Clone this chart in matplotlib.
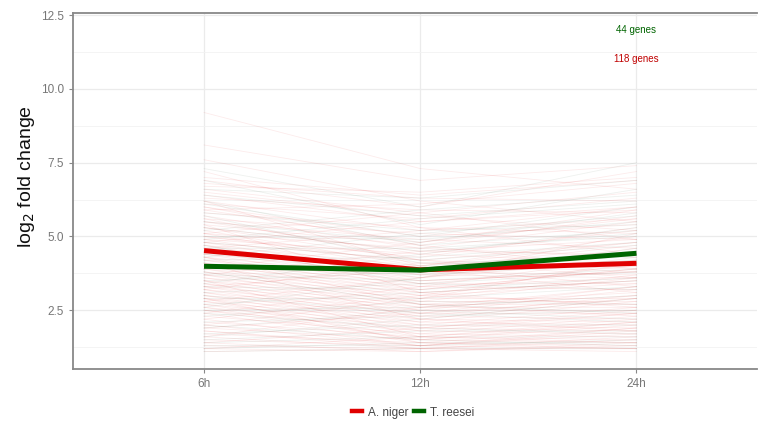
import matplotlib
matplotlib.use("Agg")
import matplotlib.pyplot as plt
from matplotlib.lines import Line2D

plt.rcParams['font.family'] = ['Liberation Sans', 'DejaVu Sans']

timepoints = ["6h", "12h", "24h"]

# per-gene log2 fold change (6h, 12h, 24h)
niger_genes = [
    (9.2, 7.3, 6.6), (8.1, 6.9, 7.4), (7.0, 6.4, 6.9), (6.9, 6.0, 7.2), (6.8, 6.3, 6.2),
    (6.6, 5.8, 6.5), (6.4, 5.5, 6.0), (6.3, 5.9, 5.8), (6.2, 5.2, 5.6), (6.1, 5.6, 6.3),
    (6.0, 5.0, 5.4), (5.9, 4.8, 5.9), (5.8, 5.3, 5.1), (5.7, 4.6, 5.5), (5.6, 5.1, 4.9),
    (5.5, 4.4, 5.2), (5.5, 4.9, 4.6), (5.4, 4.7, 5.7), (5.3, 4.2, 4.8), (5.3, 4.5, 4.4),
    (5.2, 4.0, 5.0), (5.1, 4.6, 4.3), (5.1, 3.9, 4.7), (5.0, 4.3, 5.3), (5.0, 4.1, 4.0),
    (4.9, 3.8, 4.5), (4.9, 4.4, 4.1), (4.8, 3.7, 4.6), (4.8, 4.2, 3.9), (4.7, 3.6, 4.2),
    (4.7, 4.0, 4.8), (4.6, 3.5, 3.8), (4.6, 3.9, 4.4), (4.5, 3.4, 4.0), (4.5, 3.8, 3.7),
    (4.4, 3.3, 4.3), (4.4, 3.7, 3.6), (4.3, 3.2, 3.9), (4.3, 3.6, 4.5), (4.2, 3.1, 3.5),
    (4.2, 3.5, 3.8), (4.1, 3.0, 4.1), (4.1, 3.4, 3.4), (4.0, 2.9, 3.7), (4.0, 3.3, 3.2),
    (3.9, 2.8, 3.6), (3.9, 3.2, 3.9), (3.8, 2.7, 3.1), (3.8, 3.1, 3.5), (3.7, 2.6, 3.0),
    (3.7, 3.0, 3.4), (3.6, 2.5, 3.3), (3.6, 2.9, 2.9), (3.5, 2.4, 3.2), (3.5, 2.8, 2.8),
    (3.4, 2.3, 3.0), (3.4, 2.7, 2.7), (3.3, 2.2, 2.9), (3.3, 2.6, 2.6), (3.2, 2.1, 2.8),
    (3.2, 2.5, 2.5), (3.1, 2.0, 2.6), (3.1, 2.4, 2.4), (3.0, 1.9, 2.5), (3.0, 2.3, 2.2),
    (2.9, 1.8, 2.4), (2.9, 2.2, 2.1), (2.8, 1.7, 2.3), (2.8, 2.1, 2.0), (2.7, 1.6, 2.2),
    (2.7, 2.0, 1.9), (2.6, 1.5, 2.1), (2.6, 1.9, 1.8), (2.5, 1.5, 2.0), (2.5, 1.8, 1.7),
    (2.4, 1.4, 1.9), (2.3, 1.7, 1.6), (2.2, 1.3, 1.8), (2.1, 1.6, 1.5), (2.0, 1.3, 1.7),
    (1.9, 1.5, 1.4), (1.8, 1.2, 1.6), (1.7, 1.4, 1.3), (1.6, 1.2, 1.5), (1.5, 1.3, 1.2),
    (1.4, 1.1, 1.4), (1.3, 1.2, 1.2), (1.2, 1.1, 1.3), (1.1, 1.2, 1.1), (1.2, 1.6, 2.1),
    (2.2, 3.0, 2.7), (3.2, 4.1, 3.8), (1.6, 2.6, 3.3), (5.4, 3.1, 2.6), (6.2, 4.0, 3.3),
    (2.0, 2.9, 4.2), (4.6, 5.2, 6.0), (3.9, 4.8, 5.6), (7.2, 5.3, 4.4), (2.8, 3.6, 5.1),
    (5.9, 6.1, 6.8), (4.1, 2.2, 1.8), (3.5, 1.6, 1.4), (1.9, 2.4, 2.9), (6.5, 5.7, 5.2),
    (7.6, 6.2, 5.5), (3.7, 4.5, 4.9), (2.4, 3.3, 3.6), (5.6, 4.2, 3.6), (1.4, 1.9, 2.4),
    (4.8, 5.5, 5.9), (6.0, 4.7, 3.9), (2.9, 1.4, 1.2), (3.3, 3.9, 3.1), (5.1, 5.8, 4.9),
    (4.3, 2.7, 2.3), (1.8, 1.3, 1.9), (6.7, 6.5, 7.0),
]
reesei_genes = [
    (7.3, 6.0, 7.5), (6.9, 5.4, 6.6), (6.4, 5.7, 6.2), (6.1, 5.0, 6.0), (5.8, 5.2, 5.4),
    (5.5, 4.8, 5.8), (5.3, 4.5, 5.1), (5.0, 4.9, 5.5), (4.8, 4.2, 4.7), (4.6, 4.6, 5.0),
    (4.4, 3.9, 4.4), (4.2, 4.3, 4.8), (4.0, 3.7, 4.1), (3.9, 4.0, 4.5), (3.7, 3.5, 3.9),
    (3.5, 3.8, 4.2), (3.3, 3.2, 3.6), (3.1, 3.4, 3.8), (2.9, 2.9, 3.3), (2.7, 3.1, 3.5),
    (2.5, 2.6, 3.0), (2.3, 2.8, 2.7), (2.1, 2.3, 2.5), (1.9, 2.5, 2.2), (1.7, 2.0, 2.0),
    (1.5, 1.8, 1.8), (1.4, 1.6, 1.6), (1.2, 1.4, 1.4), (1.1, 1.2, 1.2), (6.6, 6.3, 6.9),
    (5.2, 5.9, 6.4), (4.7, 3.4, 3.2), (3.8, 2.7, 2.4), (2.6, 3.6, 4.6), (2.0, 1.5, 1.3),
    (1.6, 2.2, 2.9), (3.4, 4.4, 5.3), (4.9, 5.6, 6.1), (5.7, 4.1, 4.3), (2.4, 1.9, 1.7),
    (3.0, 2.4, 2.1), (1.3, 1.3, 1.5), (4.3, 5.1, 5.7), (6.2, 4.7, 5.2),
]

# average profiles
niger_mean = [4.52, 3.87, 4.09]
reesei_mean = [3.99, 3.86, 4.43]

count_labels = ["44 genes", "118 genes"]
count_y = [12.0, 11.0]

red = "#e00000"
green = "#006400"

fig = plt.figure(figsize=(7.58, 4.24), dpi=100)
ax = fig.add_axes([0.0963, 0.1297, 0.902, 0.8396])

x = [1, 2, 3]
for g in niger_genes:
    ax.plot(x, g, color=red, alpha=0.08, lw=0.6, zorder=2)
for g in reesei_genes:
    ax.plot(x, g, color="#2f4f2f", alpha=0.08, lw=0.6, zorder=2)

ax.plot(x, niger_mean, color=red, lw=3.6, solid_capstyle="butt", zorder=4)
ax.plot(x, reesei_mean, color=green, lw=3.6, solid_capstyle="butt", zorder=5)

ax.text(3, count_y[0], count_labels[0], color=green, fontsize=7, ha="center", va="center")
ax.text(3, count_y[1], count_labels[1], color="#c00000", fontsize=7, ha="center", va="center")

ax.set_xlim(0.394, 3.556)
ax.set_ylim(0.51, 12.57)
ax.set_xticks(x)
ax.set_xticklabels(timepoints)
ax.set_yticks([2.5, 5.0, 7.5, 10.0, 12.5])
ax.set_yticklabels(["2.5", "5.0", "7.5", "10.0", "12.5"])
ax.set_yticks([1.25, 3.75, 6.25, 8.75, 11.25], minor=True)
ax.tick_params(axis="y", which="minor", length=0)
ax.tick_params(colors="#888888", labelcolor="#777777", labelsize=8.5, length=3)

ax.grid(True, which="major", color="#ebebeb", lw=0.9)
ax.grid(True, which="minor", axis="y", color="#f2f2f2", lw=0.6)
ax.set_axisbelow(True)

for side in ["left", "bottom", "top"]:
    ax.spines[side].set_color("#888888")
    ax.spines[side].set_linewidth(1.3)
ax.spines["right"].set_visible(False)

ax.set_ylabel("log$_2$ fold change", fontsize=14, color="#111111")
ax.yaxis.set_label_coords(-0.052, 0.54)

handles = [Line2D([0], [0], color=red, lw=3.2),
           Line2D([0], [0], color=green, lw=3.2)]
fig.legend(handles, ["A. niger", "T. reesei"], loc="center", bbox_to_anchor=(0.545, 0.027),
           ncol=2, frameon=False, fontsize=8.5, handlelength=0.85, handletextpad=0.45,
           columnspacing=0.5, labelcolor="#444444")

fig.savefig("out.png", dpi=100)
